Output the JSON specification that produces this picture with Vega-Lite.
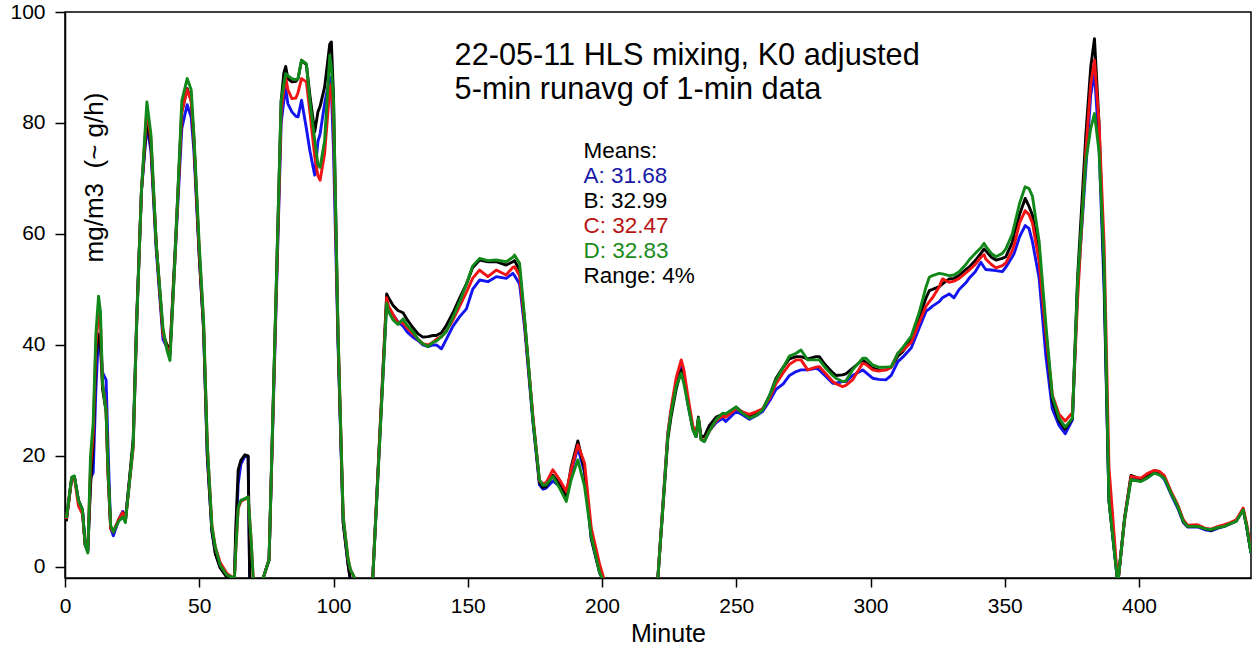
{
  "$schema": "https://vega.github.io/schema/vega-lite/v6.json",
  "width": 1186,
  "height": 566,
  "autosize": {"type": "none"},
  "padding": {"left": 65, "top": 12, "right": 1, "bottom": 71},
  "background": "white",
  "config": {
    "font": "Liberation Sans",
    "view": {"stroke": "#000000", "strokeWidth": 1.5},
    "axis": {
      "grid": false,
      "domainColor": "#000000",
      "domainWidth": 1.5,
      "tickColor": "#000000",
      "tickWidth": 1.5,
      "tickSize": 9,
      "labelColor": "#000000",
      "labelFont": "Liberation Sans",
      "labelFontSize": 21,
      "titleFont": "Liberation Sans",
      "titleFontWeight": "normal",
      "titleColor": "#000000"
    }
  },
  "datasets": {
    "series": [
      {"m": 0.5, "A": 8.6, "B": 8.2, "C": 8.6, "D": 8.8},
      {"m": 2.5, "A": 16.0, "B": 16.0, "C": 16.0, "D": 16.2},
      {"m": 3.5, "A": 16.3, "B": 16.2, "C": 16.2, "D": 16.4},
      {"m": 5, "A": 12, "B": 12, "C": 11, "D": 12},
      {"m": 6.5, "A": 10.3, "B": 10.3, "C": 9.5, "D": 10.3},
      {"m": 7.5, "A": 4, "B": 4, "C": 4, "D": 4},
      {"m": 8.5, "A": 2.8, "B": 3, "C": 3, "D": 2.5},
      {"m": 9.5, "A": 16, "B": 14.5, "C": 18, "D": 20},
      {"m": 10.5, "A": 17, "B": 22, "C": 24, "D": 26},
      {"m": 11.5, "A": 32, "B": 38, "C": 40, "D": 42},
      {"m": 12.5, "A": 42, "B": 41.8, "C": 45.5, "D": 48.8},
      {"m": 13.2, "A": 40, "B": 40, "C": 44, "D": 46},
      {"m": 14, "A": 35, "B": 32, "C": 33, "D": 33},
      {"m": 15.3, "A": 33.7, "B": 28, "C": 28.5, "D": 28},
      {"m": 16, "A": 22, "B": 17, "C": 17, "D": 18},
      {"m": 17, "A": 7, "B": 7, "C": 7, "D": 7.5},
      {"m": 18, "A": 5.6, "B": 6.3, "C": 6.3, "D": 6.3},
      {"m": 20, "A": 8.5, "B": 8.5, "C": 8.5, "D": 8.2},
      {"m": 21.5, "A": 10, "B": 9.8, "C": 9.8, "D": 9.0},
      {"m": 22.5, "A": 8.5, "B": 8.3, "C": 8.3, "D": 8.0},
      {"m": 25.4, "A": 22, "B": 23, "C": 21.5, "D": 22},
      {"m": 26.7, "A": 44, "B": 45, "C": 44, "D": 44},
      {"m": 28.5, "A": 68, "B": 68, "C": 68, "D": 68},
      {"m": 30.5, "A": 79.5, "B": 80.5, "C": 82.5, "D": 83.8},
      {"m": 32, "A": 75, "B": 76, "C": 77, "D": 78},
      {"m": 34, "A": 57, "B": 58, "C": 58, "D": 58},
      {"m": 36.5, "A": 41, "B": 42, "C": 42, "D": 43},
      {"m": 38, "A": 39.5, "B": 40, "C": 39.5, "D": 39},
      {"m": 39.1, "A": 38.3, "B": 38.8, "C": 38.3, "D": 37.2},
      {"m": 41, "A": 56, "B": 57, "C": 56, "D": 56},
      {"m": 43.5, "A": 79, "B": 82, "C": 82, "D": 84},
      {"m": 45.5, "A": 83.3, "B": 86.2, "C": 86, "D": 88},
      {"m": 47, "A": 81, "B": 84, "C": 84, "D": 86},
      {"m": 48, "A": 75, "B": 77, "C": 77, "D": 78},
      {"m": 50, "A": 56, "B": 56, "C": 57, "D": 58},
      {"m": 51.6, "A": 43, "B": 43, "C": 44, "D": 44.5},
      {"m": 53, "A": 20, "B": 20, "C": 22, "D": 22},
      {"m": 54.7, "A": 6.5, "B": 6.5, "C": 7.5, "D": 7.3},
      {"m": 56, "A": 2.5, "B": 2.3, "C": 3.5, "D": 3.5},
      {"m": 57.8, "A": 0, "B": -0.2, "C": 0.8, "D": 0.3},
      {"m": 60.3, "A": -1.7, "B": -1.9, "C": -1.2, "D": -1.5},
      {"m": 62.5, "A": -2.3, "B": -2.4, "C": -1.9, "D": -1.9},
      {"m": 63, "A": -3.5, "B": -3.5, "C": -3, "D": -3},
      {"m": 63.6, "A": 5, "B": 7, "C": 3, "D": 3},
      {"m": 64.5, "A": 15, "B": 17.5, "C": 10.5, "D": 10.8},
      {"m": 65.5, "A": 18.5, "B": 19.2, "C": 11.8, "D": 12},
      {"m": 67, "A": 20, "B": 20.2, "C": 12.2, "D": 12.3},
      {"m": 68.2, "A": 19.8, "B": 20, "C": 12.6, "D": 12.6},
      {"m": 68.8, "A": -3, "B": -3, "C": null, "D": null},
      {"m": 69.3, "A": null, "B": null, "C": 5, "D": 5},
      {"m": 70.2, "A": null, "B": null, "C": -3, "D": -3},
      {"m": 71.5, "A": -8, "B": -8, "C": -8, "D": -8},
      {"m": 73, "A": -3.5, "B": -3.5, "C": -3.5, "D": -3.5},
      {"m": 74, "A": -1.7, "B": -1.7, "C": -1.7, "D": -1.7},
      {"m": 76, "A": 1.3, "B": 1.3, "C": 1.3, "D": 1.3},
      {"m": 80.5, "A": 80, "B": 84, "C": 82, "D": 84},
      {"m": 81.5, "A": 84, "B": 89, "C": 86, "D": 87},
      {"m": 82.2, "A": 86.2, "B": 90.2, "C": 88.2, "D": 88.9},
      {"m": 83, "A": 83.5, "B": 88, "C": 86, "D": 88.5},
      {"m": 84.5, "A": 82, "B": 87.4, "C": 84.4, "D": 88},
      {"m": 86, "A": 81.2, "B": 87.5, "C": 84.5, "D": 87.8},
      {"m": 86.8, "A": 81.1, "B": 88, "C": 85.5, "D": 88},
      {"m": 88.1, "A": 84.1, "B": 91.3, "C": 88, "D": 91.3},
      {"m": 89.9, "A": 79, "B": 90.5, "C": 87.4, "D": 90.7},
      {"m": 91.2, "A": 75, "B": 85, "C": 82, "D": 84},
      {"m": 93, "A": 70.6, "B": 78.4, "C": 74, "D": 76.9},
      {"m": 94.2, "A": 76.7, "B": 82, "C": 70.5, "D": 72.5},
      {"m": 95, "A": 78, "B": 83, "C": 69.7, "D": 72},
      {"m": 96.7, "A": 83.5, "B": 86.5, "C": 74.5, "D": 76.9},
      {"m": 98.6, "A": 88.3, "B": 94.2, "C": 86.2, "D": 92.2},
      {"m": 99.2, "A": 86, "B": 94.6, "C": 87, "D": 90},
      {"m": 100, "A": 75, "B": 85, "C": 80, "D": 84},
      {"m": 101.7, "A": 40, "B": 41, "C": 42, "D": 42},
      {"m": 103.6, "A": 8, "B": 8, "C": 9, "D": 9},
      {"m": 105.4, "A": 0.5, "B": 0.5, "C": 1.5, "D": 1.5},
      {"m": 106.3, "A": -2.5, "B": -2.5, "C": -0.5, "D": -0.5},
      {"m": 108.2, "A": null, "B": null, "C": -2.3, "D": -2.3},
      {"m": 111, "A": -10, "B": -10, "C": -10, "D": -10},
      {"m": 114, "A": -8, "B": -8, "C": -8, "D": -8},
      {"m": 119.8, "A": 47.8, "B": 49.2, "C": 48.5, "D": 47.5},
      {"m": 120.5, "A": 46.5, "B": 48.5, "C": 47, "D": 46},
      {"m": 122.2, "A": 45.4, "B": 47.1, "C": 45.5, "D": 44.5},
      {"m": 124, "A": 44.2, "B": 46.2, "C": 44, "D": 43.7},
      {"m": 125.9, "A": 43.4, "B": 45.8, "C": 44, "D": 44.7},
      {"m": 127.5, "A": 42.3, "B": 44.5, "C": 43, "D": 43.5},
      {"m": 129.6, "A": 41.4, "B": 43.1, "C": 42, "D": 42.4},
      {"m": 131.5, "A": 40.8, "B": 42, "C": 41, "D": 41},
      {"m": 133.3, "A": 40, "B": 41.4, "C": 40.2, "D": 40.2},
      {"m": 135.2, "A": 39.7, "B": 41.5, "C": 40, "D": 39.7},
      {"m": 137.1, "A": 40, "B": 41.7, "C": 40.5, "D": 40.5},
      {"m": 138.3, "A": 40, "B": 41.7, "C": 41, "D": 40.7},
      {"m": 140.2, "A": 39.3, "B": 42.2, "C": 41.5, "D": 41.5},
      {"m": 142, "A": 41, "B": 43.5, "C": 42.5, "D": 42.4},
      {"m": 144.5, "A": 43.4, "B": 45.8, "C": 44.5, "D": 45},
      {"m": 147, "A": 45.1, "B": 48.5, "C": 47, "D": 47.8},
      {"m": 149.5, "A": 46.5, "B": 51, "C": 49.5, "D": 51},
      {"m": 151.8, "A": 50, "B": 53.9, "C": 52, "D": 54.2},
      {"m": 154.4, "A": 51.7, "B": 55.3, "C": 53.5, "D": 55.6},
      {"m": 157.5, "A": 51.4, "B": 55, "C": 52.3, "D": 55.2},
      {"m": 160.6, "A": 52.3, "B": 55, "C": 53.5, "D": 55.3},
      {"m": 164.3, "A": 52, "B": 54.4, "C": 52.6, "D": 55},
      {"m": 166.8, "A": 52.9, "B": 55, "C": 54, "D": 55.8},
      {"m": 167.4, "A": 52.5, "B": 55.2, "C": 54.1, "D": 56.2},
      {"m": 169.3, "A": 51, "B": 53.5, "C": 52.5, "D": 54.7},
      {"m": 171.2, "A": 43, "B": 44, "C": 44, "D": 44.7},
      {"m": 174.3, "A": 26, "B": 26.5, "C": 27, "D": 26.5},
      {"m": 176.7, "A": 14.8, "B": 15.2, "C": 15.5, "D": 15.7},
      {"m": 178, "A": 14, "B": 14.3, "C": 15, "D": 14.7},
      {"m": 179.2, "A": 14.2, "B": 14.5, "C": 15.2, "D": 14.8},
      {"m": 181.7, "A": 15.5, "B": 16.5, "C": 17.5, "D": 16.3},
      {"m": 184.2, "A": 14.5, "B": 15, "C": 15.7, "D": 14.2},
      {"m": 186.7, "A": 12.5, "B": 12.8, "C": 13.6, "D": 11.8},
      {"m": 188.5, "A": 17, "B": 18, "C": 17.5, "D": 15.7},
      {"m": 191, "A": 21.5, "B": 22.7, "C": 22, "D": 19.3},
      {"m": 193.5, "A": 17, "B": 17.5, "C": 18.7, "D": 14.5},
      {"m": 196, "A": 5, "B": 5.2, "C": 7, "D": 5.5},
      {"m": 199.1, "A": -1, "B": -1, "C": 0.5, "D": -1},
      {"m": 200.5, "A": -2.5, "B": -2.5, "C": -1.8, "D": -2.5},
      {"m": 201.5, "A": -6, "B": -6, "C": -6, "D": -6},
      {"m": 210, "A": -10, "B": -10, "C": -10, "D": -10},
      {"m": 220, "A": -7.5, "B": -7.5, "C": -7.5, "D": -7.5},
      {"m": 224.5, "A": 24, "B": 23, "C": 24, "D": 23.5},
      {"m": 225.7, "A": 28, "B": 27, "C": 28.5, "D": 27.7},
      {"m": 227.6, "A": 33, "B": 32, "C": 34, "D": 32.5},
      {"m": 229.5, "A": 36, "B": 35.5, "C": 37.3, "D": 34.9},
      {"m": 230.5, "A": 34, "B": 34, "C": 35.5, "D": 33},
      {"m": 231.9, "A": 29.5, "B": 30, "C": 31, "D": 29.5},
      {"m": 233.8, "A": 25, "B": 25, "C": 25.5, "D": 24.7},
      {"m": 235, "A": 23.5, "B": 23.5, "C": 24, "D": 23.5},
      {"m": 235.9, "A": 26.5, "B": 27, "C": 26.5, "D": 26.8},
      {"m": 236.9, "A": 23, "B": 23.5, "C": 23, "D": 22.9},
      {"m": 238.1, "A": 22.6, "B": 23.5, "C": 22.8, "D": 22.6},
      {"m": 240, "A": 24.5, "B": 25.5, "C": 24.5, "D": 24.5},
      {"m": 242.5, "A": 26, "B": 27, "C": 26.3, "D": 26.5},
      {"m": 244.9, "A": 26.8, "B": 27.5, "C": 27.2, "D": 27.7},
      {"m": 246.1, "A": 26.2, "B": 27.5, "C": 27, "D": 27.6},
      {"m": 249.9, "A": 28, "B": 28.8, "C": 28.5, "D": 28.8},
      {"m": 252, "A": 27.5, "B": 28, "C": 28, "D": 27.8},
      {"m": 254.9, "A": 26.6, "B": 27.2, "C": 27.5, "D": 26.8},
      {"m": 257.5, "A": 27.3, "B": 27.8, "C": 28, "D": 27.3},
      {"m": 259.8, "A": 28, "B": 28.3, "C": 28.5, "D": 28.3},
      {"m": 262.5, "A": 30, "B": 31, "C": 30.5, "D": 31},
      {"m": 264.8, "A": 32, "B": 34, "C": 33, "D": 33.7},
      {"m": 267.5, "A": 33, "B": 36, "C": 35, "D": 36},
      {"m": 269.8, "A": 34.5, "B": 37.5, "C": 36.5, "D": 38},
      {"m": 272.3, "A": 35.2, "B": 37.9, "C": 37.3, "D": 38.5},
      {"m": 274.1, "A": 35.5, "B": 37.9, "C": 37.3, "D": 39.1},
      {"m": 276.6, "A": 35.5, "B": 37.5, "C": 35.5, "D": 37.3},
      {"m": 279.7, "A": 35.8, "B": 37.9, "C": 36, "D": 37.3},
      {"m": 280.9, "A": 35.5, "B": 37.9, "C": 36.1, "D": 37.3},
      {"m": 283, "A": 34.5, "B": 36.5, "C": 35, "D": 36},
      {"m": 285.9, "A": 33.1, "B": 35, "C": 33.4, "D": 34.5},
      {"m": 287.1, "A": 33.1, "B": 34.5, "C": 33, "D": 34},
      {"m": 289.6, "A": 33.4, "B": 34.6, "C": 32.5, "D": 33.4},
      {"m": 290.8, "A": 33.4, "B": 34.8, "C": 32.7, "D": 33.5},
      {"m": 293.3, "A": 34.5, "B": 35.8, "C": 33.7, "D": 35.5},
      {"m": 297.1, "A": 35.5, "B": 37.3, "C": 36.7, "D": 37.6},
      {"m": 298.3, "A": 35, "B": 36.8, "C": 36.5, "D": 37.6},
      {"m": 300.8, "A": 34, "B": 35.8, "C": 35.5, "D": 36.4},
      {"m": 303, "A": 33.8, "B": 35.5, "C": 35.3, "D": 36},
      {"m": 305.7, "A": 33.7, "B": 35.5, "C": 35.5, "D": 36},
      {"m": 307.7, "A": 34.5, "B": 36, "C": 36, "D": 36.1},
      {"m": 310.2, "A": 37, "B": 38, "C": 38.5, "D": 38.5},
      {"m": 312, "A": 37.8, "B": 38.8, "C": 39, "D": 39.5},
      {"m": 315.2, "A": 39.5, "B": 41, "C": 40.5, "D": 41.6},
      {"m": 318.1, "A": 43, "B": 45, "C": 44, "D": 45.8},
      {"m": 320.7, "A": 46.1, "B": 48.5, "C": 47, "D": 50.5},
      {"m": 321.9, "A": 46.5, "B": 49.8, "C": 47.8, "D": 52.2},
      {"m": 323.1, "A": 47, "B": 50, "C": 48.5, "D": 52.5},
      {"m": 325.6, "A": 47.8, "B": 50.5, "C": 50.5, "D": 52.9},
      {"m": 326.8, "A": 48.5, "B": 51, "C": 51.9, "D": 52.8},
      {"m": 329.3, "A": 49.2, "B": 51.9, "C": 51.3, "D": 52.5},
      {"m": 331.1, "A": 48.5, "B": 52, "C": 51.5, "D": 52.6},
      {"m": 333, "A": 50, "B": 52.5, "C": 52, "D": 53.2},
      {"m": 335.5, "A": 51.2, "B": 53.6, "C": 53, "D": 54.5},
      {"m": 336.7, "A": 52, "B": 54, "C": 53.5, "D": 55.3},
      {"m": 339, "A": 53.2, "B": 55.2, "C": 54.5, "D": 56.5},
      {"m": 341.1, "A": 54.9, "B": 56.5, "C": 55.8, "D": 57.5},
      {"m": 342.3, "A": 54, "B": 57.3, "C": 56.3, "D": 58.3},
      {"m": 342.9, "A": 53.6, "B": 57, "C": 55.5, "D": 57.8},
      {"m": 345, "A": 53.5, "B": 55.8, "C": 54.5, "D": 56.5},
      {"m": 346.7, "A": 53.4, "B": 55.3, "C": 53.9, "D": 55.9},
      {"m": 349.1, "A": 53.2, "B": 55.6, "C": 54.3, "D": 56.5},
      {"m": 350.4, "A": 54, "B": 55.9, "C": 54.8, "D": 57.3},
      {"m": 352.8, "A": 55.9, "B": 58.5, "C": 57, "D": 60},
      {"m": 353.5, "A": 56.5, "B": 60, "C": 58, "D": 61.4},
      {"m": 355.5, "A": 59.5, "B": 63.5, "C": 62, "D": 65.5},
      {"m": 357.6, "A": 61.5, "B": 66.4, "C": 64.2, "D": 68.5},
      {"m": 359, "A": 61, "B": 65, "C": 63.5, "D": 68.2},
      {"m": 360.3, "A": 58.6, "B": 63.4, "C": 62, "D": 66.8},
      {"m": 362.8, "A": 52, "B": 56, "C": 55, "D": 58.6},
      {"m": 365.3, "A": 38, "B": 42, "C": 42, "D": 43.7},
      {"m": 367.7, "A": 28.5, "B": 30, "C": 31, "D": 30.8},
      {"m": 370.2, "A": 25.5, "B": 26.3, "C": 27.5, "D": 26.8},
      {"m": 372.5, "A": 24, "B": 24.8, "C": 26.3, "D": 25.2},
      {"m": 375.2, "A": 26.5, "B": 26.8, "C": 27.8, "D": 26.8},
      {"m": 377.1, "A": 50, "B": 52, "C": 48, "D": 51.2},
      {"m": 380.2, "A": 72, "B": 78, "C": 75, "D": 73.2},
      {"m": 382, "A": 85, "B": 90, "C": 87, "D": 79},
      {"m": 383.4, "A": 89.2, "B": 95.2, "C": 91.3, "D": 81.7},
      {"m": 385.1, "A": 76, "B": 80, "C": 80, "D": 74.9},
      {"m": 387, "A": 50, "B": 52, "C": 58, "D": 54.6},
      {"m": 388.8, "A": 12, "B": 12, "C": 18, "D": 11.9},
      {"m": 392.1, "A": -3, "B": -3, "C": -3, "D": -3},
      {"m": 394.6, "A": 8.5, "B": 8.8, "C": 8.5, "D": 8.5},
      {"m": 397, "A": 16, "B": 16.5, "C": 16.3, "D": 15.7},
      {"m": 400.7, "A": 15.5, "B": 15.8, "C": 16, "D": 15.4},
      {"m": 403, "A": 16, "B": 16.3, "C": 16.8, "D": 16},
      {"m": 405.7, "A": 17, "B": 17.3, "C": 17.4, "D": 16.9},
      {"m": 407.5, "A": 16.8, "B": 17.2, "C": 17.2, "D": 16.6},
      {"m": 409.4, "A": 15.8, "B": 16.2, "C": 16.5, "D": 16},
      {"m": 412, "A": 13, "B": 13.3, "C": 13.5, "D": 13.2},
      {"m": 414.4, "A": 10.6, "B": 11, "C": 11.2, "D": 10.9},
      {"m": 416.5, "A": 8, "B": 8.2, "C": 8.5, "D": 8.2},
      {"m": 418.1, "A": 7.2, "B": 7.3, "C": 7.5, "D": 7.3},
      {"m": 421.8, "A": 7.2, "B": 7.3, "C": 7.6, "D": 7.3},
      {"m": 424.5, "A": 6.7, "B": 6.9, "C": 7, "D": 6.9},
      {"m": 426.8, "A": 6.5, "B": 6.6, "C": 6.8, "D": 6.7},
      {"m": 429.5, "A": 7, "B": 7.1, "C": 7.3, "D": 7.1},
      {"m": 431.8, "A": 7.3, "B": 7.4, "C": 7.6, "D": 7.3},
      {"m": 434, "A": 7.8, "B": 7.8, "C": 8, "D": 7.8},
      {"m": 436.2, "A": 8.3, "B": 8.3, "C": 8.5, "D": 8.2},
      {"m": 438.8, "A": 10.3, "B": 10.3, "C": 10.6, "D": 10.3},
      {"m": 440, "A": 7.5, "B": 7.5, "C": 8, "D": 7.5},
      {"m": 441.7, "A": 2.5, "B": 2.5, "C": 3, "D": 2.5}
    ],
    "titleText": [
      {"m": 145.1, "v": 90.43, "label": "22-05-11 HLS mixing, K0 adjusted"},
      {"m": 145.1, "v": 84.25, "label": "5-min runavg of 1-min data"}
    ],
    "meansText": [
      {"m": 193.1, "v": 73.63, "label": "Means:", "key": "Means"},
      {"m": 193.1, "v": 69.13, "label": "A: 31.68", "key": "A"},
      {"m": 193.1, "v": 64.63, "label": "B: 32.99", "key": "B"},
      {"m": 193.1, "v": 60.13, "label": "C: 32.47", "key": "C"},
      {"m": 193.1, "v": 55.63, "label": "D: 32.83", "key": "D"},
      {"m": 193.1, "v": 51.13, "label": "Range: 4%", "key": "Range"}
    ]
  },
  "resolve": {"scale": {"color": "independent"}},
  "layer": [
    {
      "mark": {"type": "rule", "color": "#a0a0a0", "strokeWidth": 1.5},
      "encoding": {
        "y": {"datum": 0, "type": "quantitative", "scale": {"domain": [-2, 100], "nice": false, "zero": false}}
      }
    },
    {
      "data": {"name": "series"},
      "transform": [
        {"fold": ["A", "B", "C", "D"], "as": ["s", "v"]},
        {"filter": "isValid(datum.v)"}
      ],
      "mark": {"type": "line", "clip": true, "strokeWidth": 2.9, "strokeJoin": "round"},
      "encoding": {
        "x": {
          "field": "m", "type": "quantitative",
          "scale": {"domain": [0, 441.7], "nice": false, "zero": false},
          "axis": {
            "values": [0, 50, 100, 150, 200, 250, 300, 350, 400],
            "title": "Minute",
            "titleFontSize": 25,
            "titleX": 603,
            "titleY": 63,
            "titleAlign": "center",
            "titleBaseline": "alphabetic",
            "tickSize": 9,
            "labelFontSize": 21,
            "labelPadding": 8,
            "labelFlush": false
          }
        },
        "y": {
          "field": "v", "type": "quantitative",
          "scale": {"domain": [-2, 100], "nice": false, "zero": false},
          "axis": {
            "values": [0, 20, 40, 60, 80, 100],
            "title": "mg/m3 \u00a0(~ g/h)",
            "titleFontSize": 26,
            "titleAngle": 270,
            "titleX": 37,
            "titleY": 165,
            "titleAlign": "center",
            "titleBaseline": "alphabetic",
            "tickSize": 10,
            "labelFontSize": 21,
            "labelPadding": 10,
            "labelFlush": false
          }
        },
        "color": {
          "field": "s", "type": "nominal",
          "scale": {"domain": ["A", "B", "C", "D"], "range": ["#1414f0", "#000000", "#f01414", "#11891a"]},
          "legend": null
        }
      }
    },
    {
      "data": {"name": "titleText"},
      "mark": {"type": "text", "align": "left", "baseline": "alphabetic", "fontSize": 30.7, "font": "Liberation Sans", "color": "#000000"},
      "encoding": {
        "x": {"field": "m", "type": "quantitative"},
        "y": {"field": "v", "type": "quantitative"},
        "text": {"field": "label"}
      }
    },
    {
      "data": {"name": "meansText"},
      "mark": {"type": "text", "align": "left", "baseline": "alphabetic", "fontSize": 22.5, "font": "Liberation Sans"},
      "encoding": {
        "x": {"field": "m", "type": "quantitative"},
        "y": {"field": "v", "type": "quantitative"},
        "text": {"field": "label"},
        "color": {
          "field": "key", "type": "nominal",
          "scale": {"domain": ["Means", "A", "B", "C", "D", "Range"], "range": ["#000000", "#1a1aa8", "#000000", "#b81414", "#1a8c1a", "#000000"]},
          "legend": null
        }
      }
    }
  ]
}
